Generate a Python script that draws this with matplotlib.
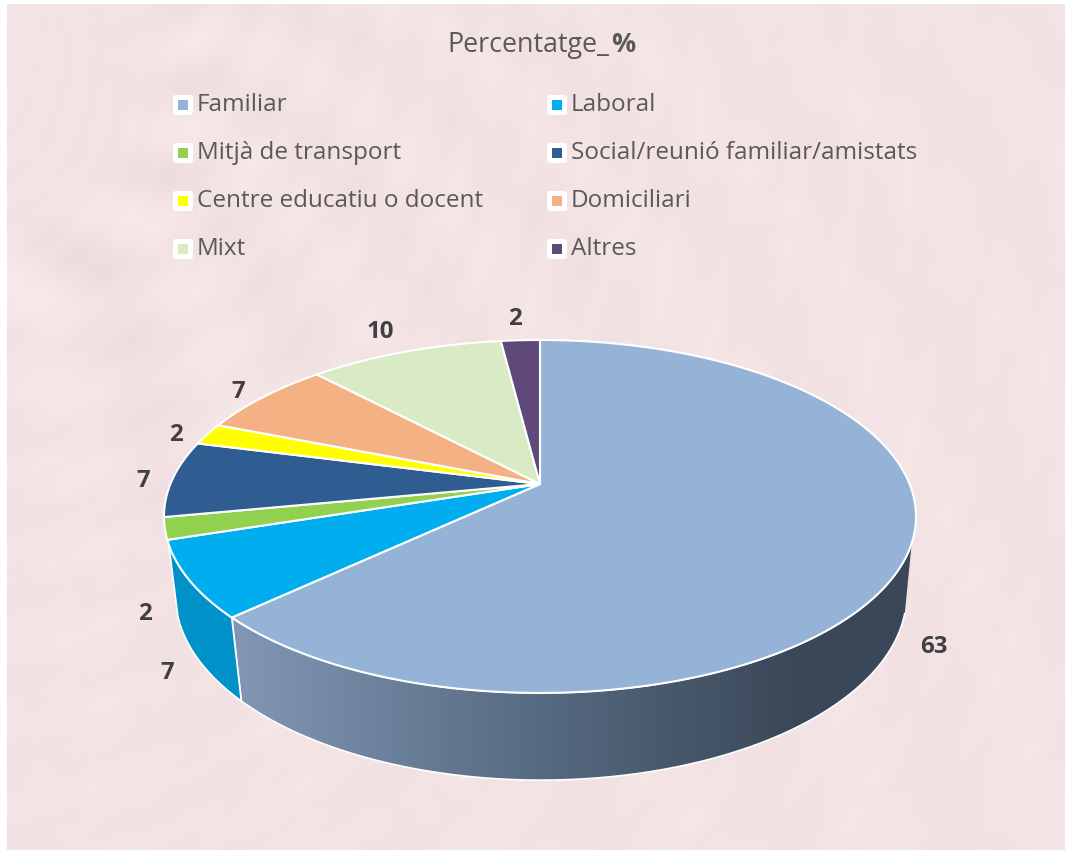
import numpy as np
import matplotlib
matplotlib.use("Agg")
import matplotlib.pyplot as plt
from matplotlib.colors import LinearSegmentedColormap
from matplotlib.patches import FancyBboxPatch, PathPatch, Rectangle
from matplotlib.path import Path

plt.rcParams["font.family"] = ["Open Sans", "Noto Sans", "DejaVu Sans"]

# Data
categories = ["Familiar", "Laboral", "Mitjà de transport", "Social/reunió familiar/amistats",
              "Centre educatiu o docent", "Domiciliari", "Mixt", "Altres"]
values = [63, 7, 2, 7, 2, 7, 10, 2]
colors = ["#95B3D7", "#00AEEF", "#92D050", "#305D91", "#FFFF00", "#F4B183", "#D8EBC4", "#5F497A"]

W, H = 1065, 850
fig = plt.figure(figsize=(W / 100, H / 100), dpi=100)
ax = fig.add_axes([0, 0, 1, 1])
ax.axis("off")

# Paper texture, only a sum of waves
yy, xx = np.mgrid[0:H:2, 0:W:2]
noise = np.zeros(xx.shape)
for i in range(260):
    ang = i * 2.39996
    f = 0.03 + 0.18 * ((i * 0.618034) % 1)
    noise += np.sin(f * (xx * np.cos(ang) + yy * np.sin(ang)) + i * 1.7) / (1 + 6 * f)
noise = noise / noise.std()
base = np.array([243, 227, 228]) / 255
texture = np.clip(base[None, None, :] + 0.0055 * noise[:, :, None] * np.array([0.7, 1, 1]), 0, 1)
ax.imshow(texture, extent=[7, W, H, 4], aspect="auto", zorder=0, interpolation="bilinear")


# Disc seen in perspective, t in degrees, 90 is the back of the pie
def project(t, cx, y0, bx, ay, k=0.184):
    t = np.radians(t)
    d = 1 + k * np.sin(t)
    return cx + bx * np.cos(t) / d, y0 - ay * np.sin(t) / d


def top(t):
    return project(t, 540, 484, 369.6, 170.5)


def bottom(t):
    return project(t, 541, 561, 359.3, 178.8)


# Slice angles, clockwise from the top
edges = 90 - np.concatenate([[0], np.cumsum(values)]) * 360 / sum(values)
split = edges[1]

# Front wall: Familiar has the gradient, Laboral is flat
tt = np.linspace(-19, split, 200)
tb = np.linspace(split, -16, 200)
xs = np.concatenate([top(tt)[0], bottom(tb)[0]])
ys = np.concatenate([top(tt)[1], bottom(tb)[1]])
wall = PathPatch(Path(np.column_stack([xs, ys])), fc="none", ec="white", lw=1.2, zorder=3)
ax.add_patch(wall)
cmap = LinearSegmentedColormap.from_list(
    "wall", [(0, "#8197B5"), (0.45, "#566A80"), (0.83, "#3A4758"), (1, "#3A4758")])
grad = np.linspace(0, 1, 512)[None, :]
im = ax.imshow(grad, extent=[232, 916, 790, 530], cmap=cmap, aspect="auto", zorder=2)
im.set_clip_path(wall)

tt = np.linspace(split, -160.5, 60)
tb = np.linspace(-163, split, 60)
xs = np.concatenate([top(tt)[0], bottom(tb)[0]])
ys = np.concatenate([top(tt)[1], bottom(tb)[1]])
ax.fill(xs, ys, fc="#0091C9", ec="white", lw=1.2, zorder=3, joinstyle="round")

# Top faces
for i, c in enumerate(colors):
    tw = np.linspace(edges[i], edges[i + 1], 200)
    px, py = top(tw)
    ax.fill(np.r_[540, px], np.r_[484, py], fc=c, ec="white", lw=1.5, zorder=4, joinstyle="round")

# Value labels
label_x = [934, 167, 145, 143, 176, 238, 380, 515]
label_y = [647, 673, 614, 481, 435, 392, 332, 319]
for i in range(len(values)):
    ax.text(label_x[i], label_y[i], str(values[i]), fontsize=17.3, fontweight="bold",
            color="#404040", ha="center", va="center", zorder=6)

# Legend
col_x = [183, 557]
row_y = [105, 153, 201, 249]
for i, name in enumerate(categories):
    lx = col_x[i % 2]
    ly = row_y[i // 2]
    ax.add_patch(FancyBboxPatch((lx - 8, ly - 8), 16, 16, boxstyle="round,pad=2,rounding_size=3",
                                fc="white", ec="none", zorder=5))
    ax.add_patch(Rectangle((lx - 5, ly - 5), 10, 10, fc=colors[i], ec="none", zorder=6))
    ax.text(lx + 14, ly, name, fontsize=17.45, color="#595959", ha="left", va="center", zorder=6)

# Title
ax.text(447, 45, "Percentatge_", fontsize=19.4, color="#595959", ha="left", va="center")
ax.text(635, 45, "%", fontsize=19.4, fontweight="bold", color="#595959", ha="right", va="center")

ax.set_xlim(0, W)
ax.set_ylim(H, 0)
fig.savefig("out.png", dpi=100, facecolor="white")
